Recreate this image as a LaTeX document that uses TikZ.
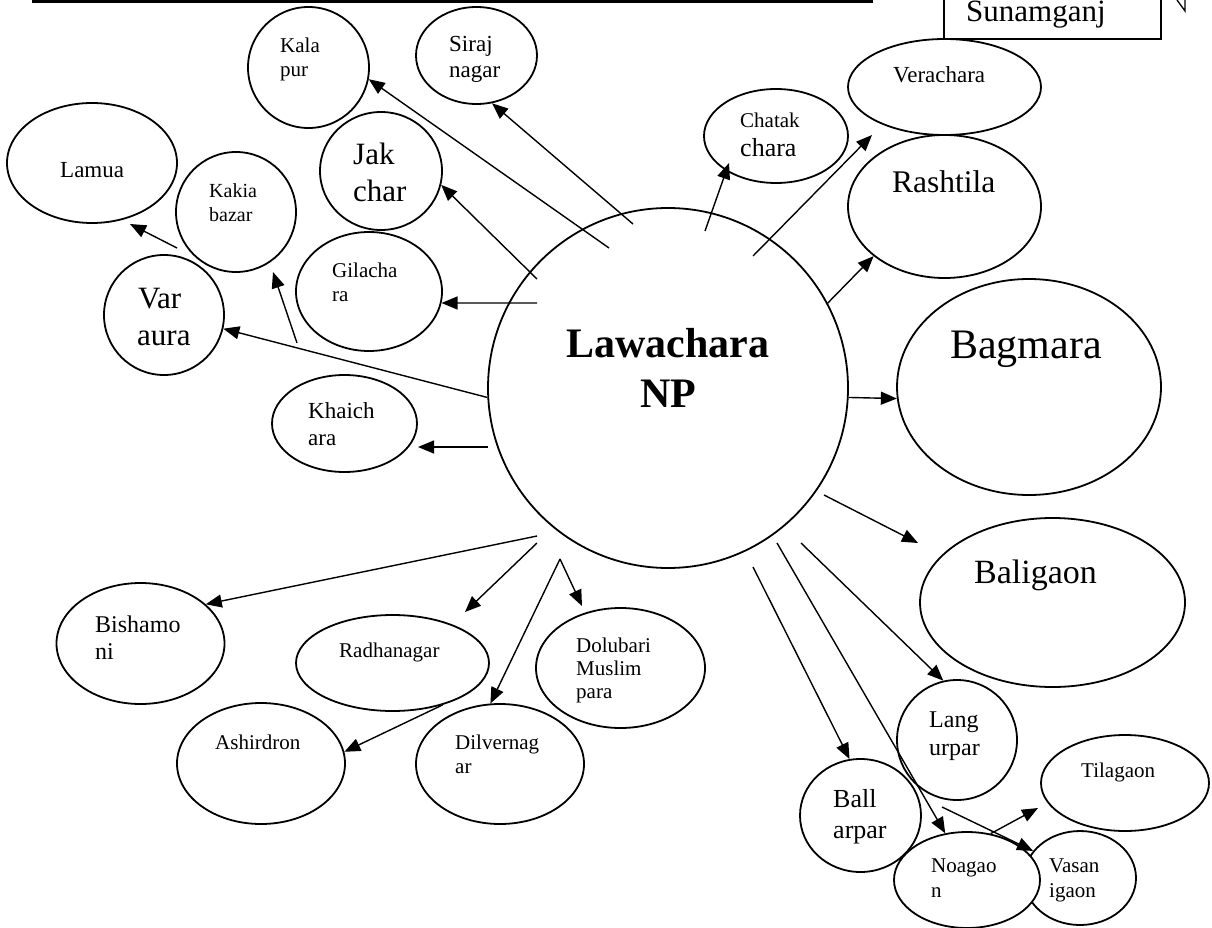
\documentclass[tikz,border=0pt]{standalone}
\usepackage{fontspec}
\setmainfont{Liberation Serif}
\usetikzlibrary{arrows.meta,shapes.geometric}

\tikzset{
  place/.style 2 args={ellipse, draw, line width=1.8pt, inner sep=0pt,
    minimum width=#1, minimum height=#2},
  lbl/.style={anchor=base west, inner sep=0pt, font=\fontsize{#1}{#1}\selectfont},
  link/.style={line width=1.4pt, -{Triangle[length=16pt,width=13pt]}},
}

\begin{document}
\begin{tikzpicture}[x=1pt, y=-1pt]
\useasboundingbox (0,0) rectangle (1212,928);

% heading rule and the district box
\fill (32,0) rectangle (873,3.5);
\node[draw, line width=1.3pt, minimum width=217pt, minimum height=50pt, inner sep=0pt] (sbox) at (1052.5,14) {};
\node[lbl=31] (sbox-t) at (966,22) {Sunamganj};
\draw[line width=1.3pt] (1177,0) -- (1185,11) -- (1185,0);

% villages
\node[place={170}{120}] (lamua) at (92,163) {};
\node[place={121}{121}] (kala) at (308.5,67.5) {};
\node[place={121}{97}]  (siraj) at (476.5,55.5) {};
\node[place={122}{118}] (jak) at (381,171) {};
\node[place={120}{120}] (kakia) at (236,212) {};
\node[place={146}{119}] (gila) at (369,291.5) {};
\node[place={120}{120}] (var) at (164,315) {};
\node[place={145}{97}]  (khai) at (344.5,423.5) {};
\node[place={144}{94}]  (chatak) at (776,136) {};
\node[place={193}{96}]  (vera) at (944.5,87) {};
\node[place={193}{143}] (rash) at (944.5,206.5) {};
\node[place={360}{360}] (np) at (668,388) {};
\node[place={264}{216}] (bag) at (1029,387) {};
\node[place={265}{169}] (bali) at (1052.5,602.5) {};
\node[place={168}{121}] (bish) at (140.5,643.5) {};
\node[place={193}{96}]  (radha) at (392.5,663) {};
\node[place={168}{121}] (ash) at (261,763.5) {};
\node[place={168}{120}] (dil) at (500,764) {};
\node[place={169}{120}] (dol) at (620.5,668) {};
\node[place={120}{120}] (lang) at (957,740) {};
\node[place={168}{96}]  (tila) at (1125,783) {};
\node[place={112}{94}]  (vasan) at (1080,878) {};
\node[place={146}{96}, fill=white] (noa) at (967,880) {};
\node[place={121}{113}] (ball) at (860.5,815.5) {};

% names
\node[lbl=23] (lamua-1) at (60,178) {Lamua};
\node[lbl=21] (kala-1) at (280,53) {Kala};
\node[lbl=21] (kala-2) at (280,77) {pur};
\node[lbl=23] (siraj-1) at (449,52) {Siraj};
\node[lbl=23] (siraj-2) at (449,78) {nagar};
\node[lbl=31] (jak-1) at (353,165) {Jak};
\node[lbl=31] (jak-2) at (353,202) {char};
\node[lbl=20] (kakia-1) at (209,197) {Kakia};
\node[lbl=20] (kakia-2) at (209,221) {bazar};
\node[lbl=21] (gila-1) at (332,277) {Gilacha};
\node[lbl=21] (gila-2) at (332,301) {ra};
\node[lbl=31] (var-1) at (138,308) {Var};
\node[lbl=31] (var-2) at (137,345) {aura};
\node[lbl=23] (khai-1) at (308,418) {Khaich};
\node[lbl=23] (khai-2) at (308,445) {ara};
\node[lbl=21] (chatak-1) at (740,128) {Chatak};
\node[lbl=26] (chatak-2) at (740,157) {chara};
\node[lbl=23] (vera-1) at (893,83) {Verachara};
\node[lbl=31.5] (rash-1) at (892,193) {Rashtila};
\node[anchor=base, inner sep=0pt, font=\fontsize{42}{42}\selectfont\bfseries] (np-1) at (668,357) {Lawachara};
\node[anchor=base, inner sep=0pt, font=\fontsize{42}{42}\selectfont\bfseries] (np-2) at (668,407) {NP};
\node[lbl=42] (bag-1) at (950,358) {Bagmara};
\node[lbl=34] (bali-1) at (974,583) {Baligaon};
\node[lbl=24] (bish-1) at (95,632) {Bishamo};
\node[lbl=24] (bish-2) at (95,659) {ni};
\node[lbl=21] (radha-1) at (339,657) {Radhanagar};
\node[lbl=21] (ash-1) at (215,749) {Ashirdron};
\node[lbl=21] (dil-1) at (455,749) {Dilvernag};
\node[lbl=21] (dil-2) at (455,773) {ar};
\node[lbl=21] (dol-1) at (576,652) {Dolubari};
\node[lbl=21] (dol-2) at (576,675) {Muslim};
\node[lbl=21] (dol-3) at (576,698) {para};
\node[lbl=24] (lang-1) at (929,727) {Lang};
\node[lbl=24] (lang-2) at (929,755) {urpar};
\node[lbl=26] (ball-1) at (833,807) {Ball};
\node[lbl=26] (ball-2) at (833,838) {arpar};
\node[lbl=21] (tila-1) at (1081,777) {Tilagaon};
\node[lbl=21] (noa-1) at (931,872) {Noagao};
\node[lbl=21] (noa-2) at (931,897) {n};
\node[lbl=21] (vasan-1) at (1049,872) {Vasan};
\node[lbl=21] (vasan-2) at (1049,897) {igaon};

% loose ends of the links
\coordinate (s-siraj) at (633,224);
\coordinate (s-kala) at (609,248);
\coordinate (s-jak) at (537,279);
\coordinate (s-gila) at (537,303);
\coordinate (s-khai) at (488,447);
\coordinate (t-khai) at (418,447);
\coordinate (s-lamua) at (177,248);
\coordinate (t-lamua) at (130,224);
\coordinate (s-kakia) at (297,343);
\coordinate (t-kakia) at (273,272);
\coordinate (s-chatak) at (705,231);
\coordinate (t-chatak) at (729,163);
\coordinate (s-vera) at (753,256);
\coordinate (t-vera) at (872,135);
\coordinate (s-bali) at (824,495);
\coordinate (t-bali) at (918,543);
\coordinate (s-bish) at (537,536);
\coordinate (s-radha) at (537,543);
\coordinate (t-radha) at (465,612);
\coordinate (s-split) at (560,559);
\coordinate (t-dol) at (582,606);
\coordinate (s-ball) at (753,567);
\coordinate (s-noa) at (777,543);
\coordinate (s-lang) at (801,543);
\coordinate (t-tila) at (1038,808);
\coordinate (s-vasan) at (942,807);

% links
\draw[link] (s-siraj) -- (siraj.-72);
\draw[link] (s-kala) -- (kala.-11.5);
\draw[link] (s-jak) -- (jak.-13.6);
\draw[link] (s-gila) -- (gila.-9);
\draw[link] (np.183.5) -- (var.-13);
\draw[link] (s-khai) -- (t-khai);
\draw[link] (s-lamua) -- (t-lamua);
\draw[link] (s-kakia) -- (t-kakia);
\draw[link] (s-chatak) -- (t-chatak);
\draw[link] (s-vera) -- (t-vera);
\draw[link] (np.28.7) -- (rash.-145);
\draw[link] (np.-3.5) -- (bag.185);
\draw[link] (s-bali) -- (t-bali);
\draw[link] (s-bish) -- (bish.31);
\draw[link] (s-radha) -- (t-radha);
\draw[link] (s-split) -- (dil.99);
\draw[link] (s-split) -- (t-dol);
\draw[link] (radha.-40) -- (ash.8);
\draw[link] (s-ball) -- (ball.101);
\draw[link] (s-noa) -- (noa.115);
\draw[link] (s-lang) -- (lang.103);
\draw[link] (noa.63) -- (t-tila);
\draw[link] (s-vasan) -- (vasan.150);
\end{tikzpicture}
\end{document}
